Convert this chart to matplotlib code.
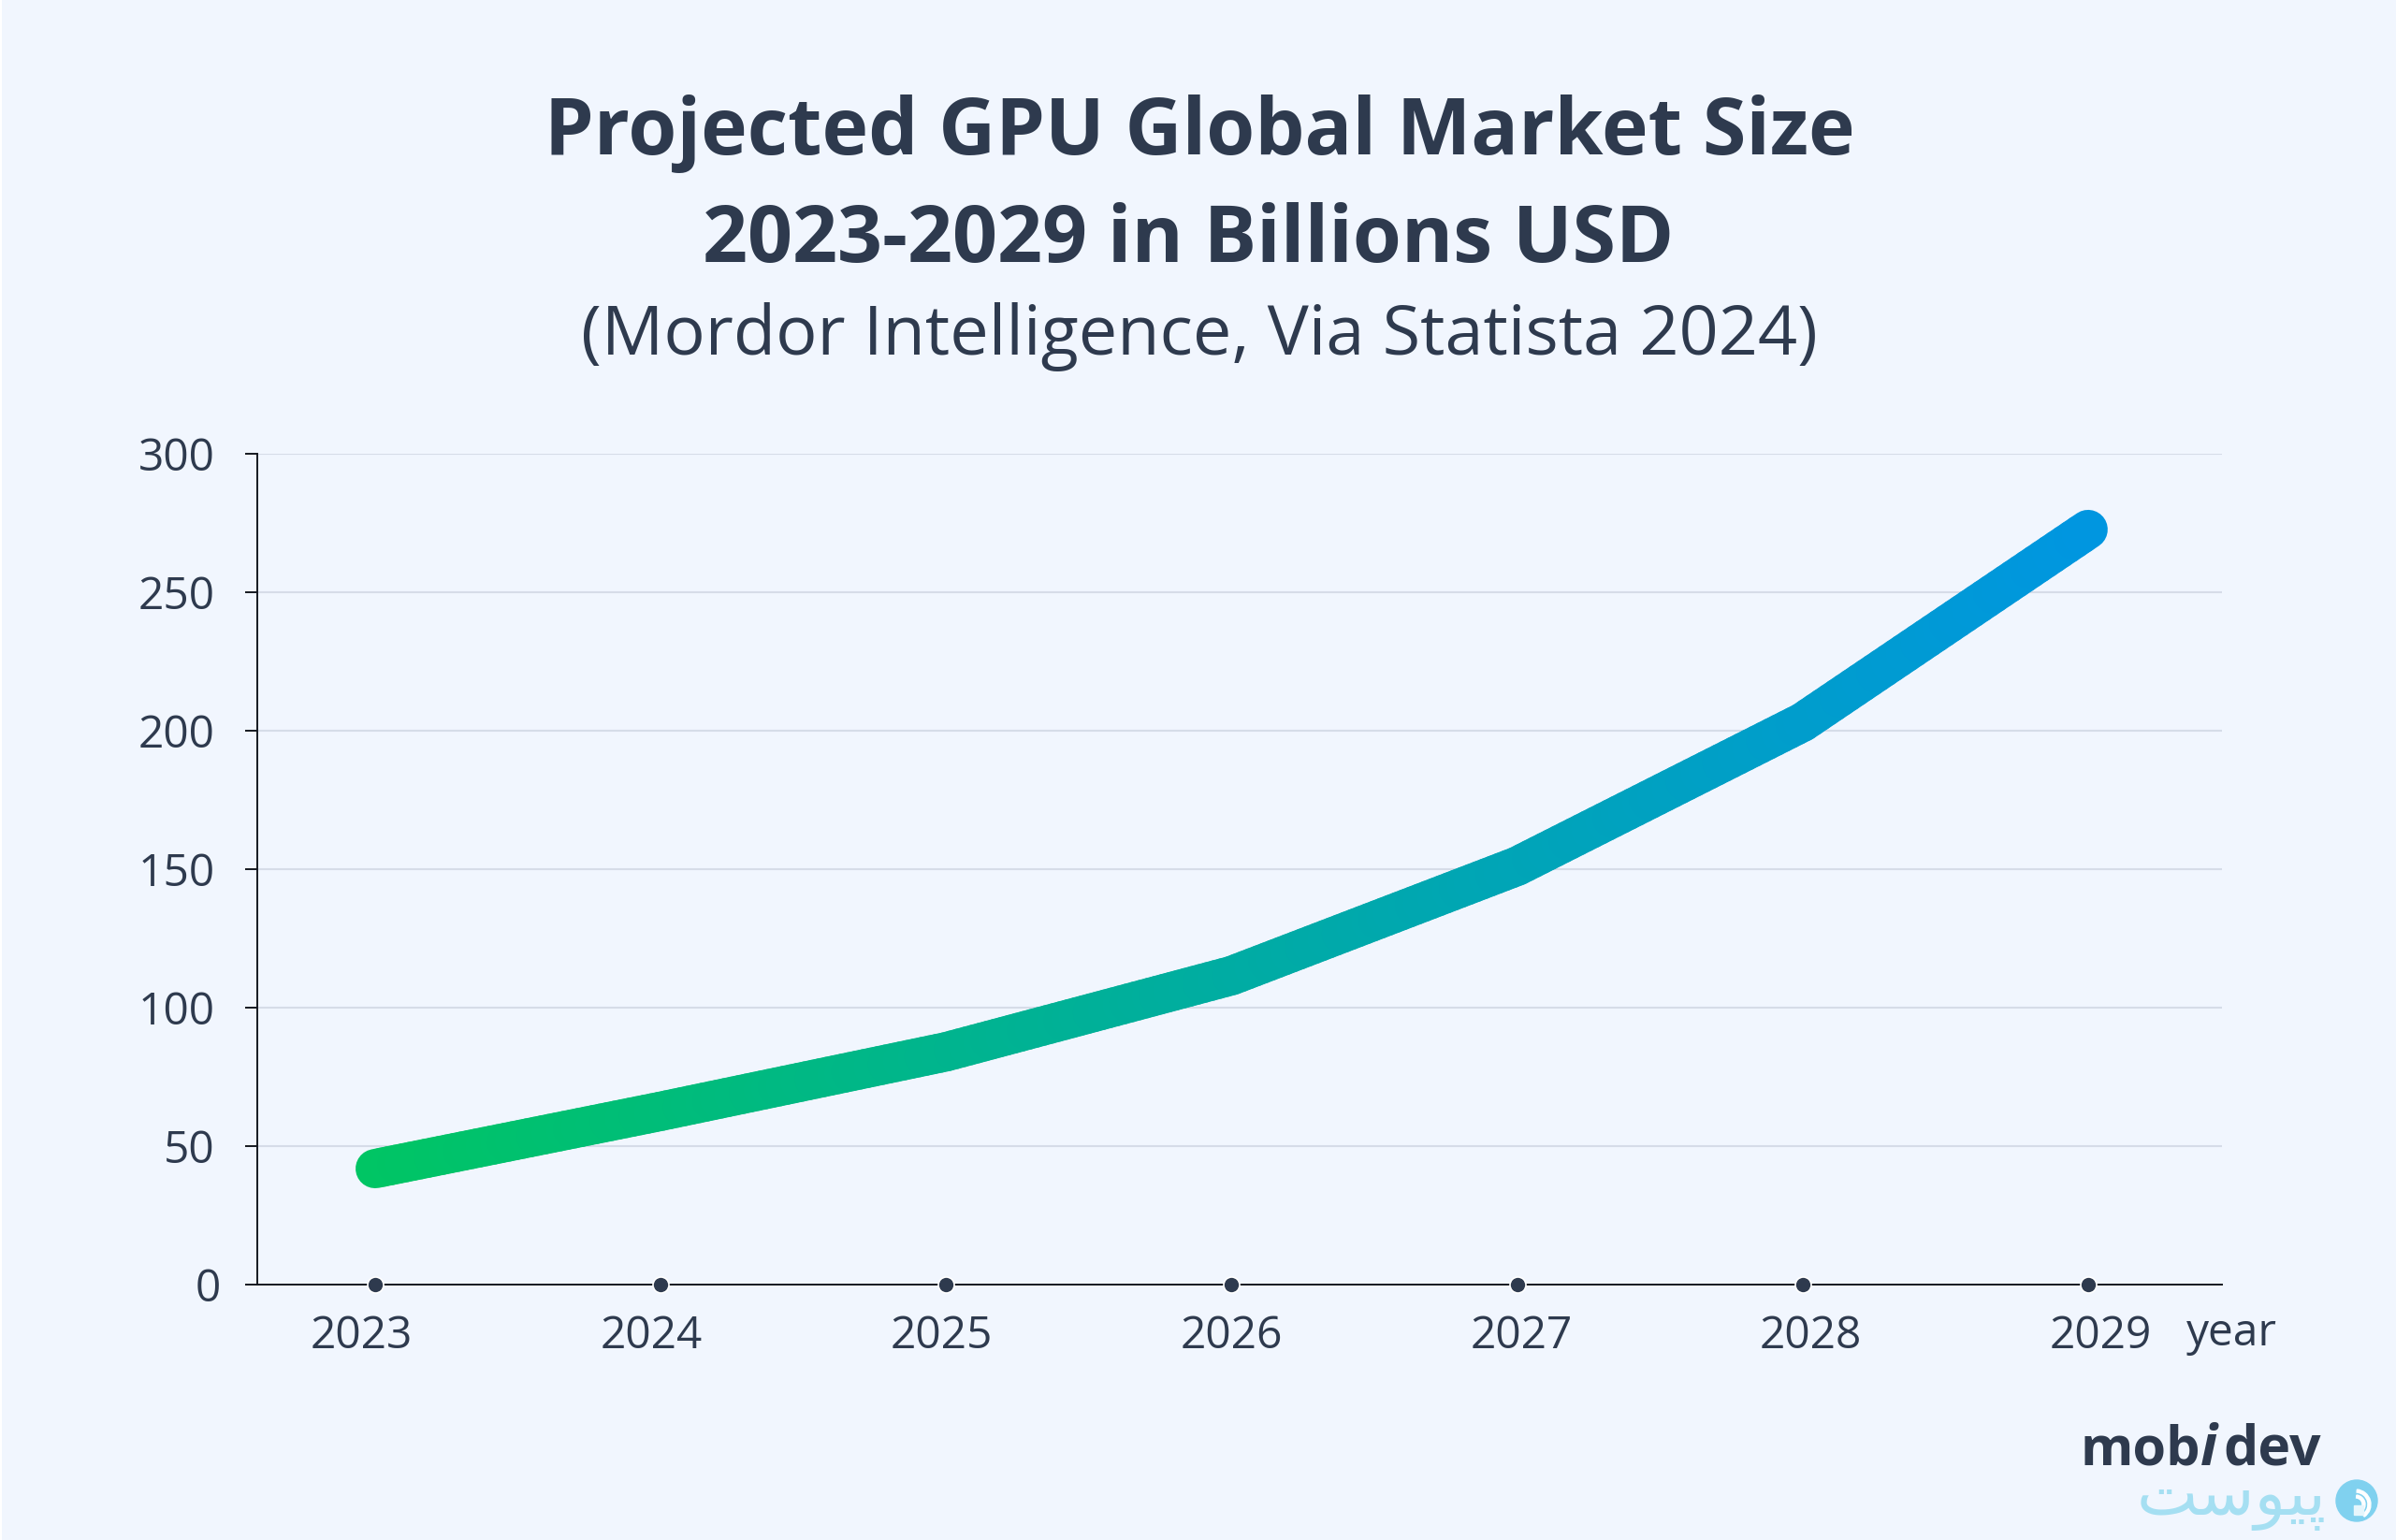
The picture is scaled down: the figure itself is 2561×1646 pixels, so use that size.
import numpy as np
from matplotlib import pyplot as plt
from matplotlib.collections import LineCollection
from matplotlib.colors import LinearSegmentedColormap
from matplotlib.patches import Circle, Rectangle, Wedge

YEARS = [2023, 2024, 2025, 2026, 2027, 2028, 2029]
MARKET_SIZE = [41.8, 62.5, 84.0, 111.5, 151.0, 203.0, 272.6]
Y_TICKS = [0, 50, 100, 150, 200, 250, 300]

TITLE_LINES = ["Projected GPU Global Market Size", "2023-2029 in Billions USD"]
SUBTITLE = "(Mordor Intelligence, Via Statista 2024)"
DARK = "#2e3a4e"
BACKGROUND = "#f1f6fe"
GRID = "#d6dce8"
WIDTH, HEIGHT = 2561, 1646
AXIS_SIZE = 34.5

plt.rcParams["font.family"] = ["Open Sans", "Noto Sans", "DejaVu Sans"]

fig = plt.figure(figsize=(WIDTH / 100, HEIGHT / 100), dpi=100, facecolor=BACKGROUND)
ax = fig.add_axes(
    [275 / WIDTH, 1 - 1372.8 / HEIGHT, (2375 - 275) / WIDTH, 888 / HEIGHT]
)
ax.set_facecolor(BACKGROUND)
ax.set_xlim(2022.587, 2029.469)
ax.set_ylim(0, 300)

ax.set_yticks(Y_TICKS)
ax.tick_params(axis="y", length=9.4, width=1.4, color="#14181f", labelsize=AXIS_SIZE,
               labelcolor=DARK, pad=23.5)
ax.yaxis.get_major_ticks()[0].set_pad(19)  # the zero sits closer to the axis
ax.grid(axis="y", color=GRID, linewidth=1.5)
ax.set_axisbelow(True)
for side in ("top", "right"):
    ax.spines[side].set_visible(False)
for side in ("left", "bottom"):
    ax.spines[side].set_color("#14181f")
    ax.spines[side].set_linewidth(1.4)

# labels sit on a slightly wider spacing than the dots in the original
label_pos = [2023 - 0.049 + i * 1.0157 for i in range(len(YEARS))]
ax.set_xticks(label_pos, [str(y) for y in YEARS])
ax.tick_params(axis="x", length=0, labelsize=AXIS_SIZE, labelcolor=DARK, pad=22.5)

# the gradient is only a colouring of the straight segments between values
pieces = []
shades = []
for i in range(len(YEARS) - 1):
    xs = np.linspace(YEARS[i], YEARS[i + 1], 40)
    ys = np.linspace(MARKET_SIZE[i], MARKET_SIZE[i + 1], 40)
    for j in range(len(xs) - 1):
        pieces.append([(xs[j], ys[j]), (xs[j + 1], ys[j + 1])])
        shades.append((xs[j] - YEARS[0]) / (YEARS[-1] - YEARS[0]))
cmap = LinearSegmentedColormap.from_list(
    "line", [(0, "#00c564"), (0.55, "#00aaa8"), (1, "#0096e0")]
)
line = LineCollection(pieces, colors=cmap(shades), linewidths=30.2,
                      capstyle="round", joinstyle="round", zorder=3)
ax.add_collection(line)

ax.scatter(YEARS, [0] * len(YEARS), s=150, color=DARK, edgecolor="white",
           linewidth=1.2, clip_on=False, zorder=4)

fig.text(1282 / WIDTH, 1 - 143 / HEIGHT, TITLE_LINES[0], fontsize=60.6,
         fontweight="bold", color=DARK, ha="center", va="center")
fig.text(1270 / WIDTH, 1 - 258 / HEIGHT, TITLE_LINES[1], fontsize=60.6,
         fontweight="bold", color=DARK, ha="center", va="center")
fig.text(1282 / WIDTH, 1 - 360 / HEIGHT, SUBTITLE, fontsize=53.2, color=DARK,
         ha="center", va="center")
fig.text(2385 / WIDTH, 1 - 1438 / HEIGHT, "year", fontsize=AXIS_SIZE, color=DARK,
         ha="center", va="baseline")

# footer logos
fig.text(2224 / WIDTH, 1 - 1566 / HEIGHT, "mob", fontsize=41.5, fontweight="bold",
         color=DARK, ha="left", va="baseline")
fig.text(2352 / WIDTH, 1 - 1566 / HEIGHT, "i", fontsize=44, fontweight="bold",
         style="italic", color=DARK, ha="left", va="baseline")
fig.text(2376 / WIDTH, 1 - 1566 / HEIGHT, "dev", fontsize=42.5, fontweight="bold",
         color=DARK, ha="left", va="baseline")
# Persian wordmark in visual order, matplotlib does not shape Arabic script
fig.text(2385 / WIDTH, 1 - 1602 / HEIGHT, "\ufe96\ufeb3\ufeee\ufef4\ufb58", fontsize=50,
         color="#a5dff2", ha="center", va="center", family="DejaVu Sans")
fig.add_artist(Circle((2519, HEIGHT - 1604), 22, color="#80d1ef", transform=None))
for radius in (10, 16):
    fig.add_artist(Wedge((2518, HEIGHT - 1608), radius, -55, 85, width=3, color="white",
                         transform=None))
fig.add_artist(Rectangle((2516, HEIGHT - 1619), 10, 10, color="#e6f6fc", transform=None))

# thin white strip down the left edge of the original image
fig.add_artist(Rectangle((0, 0), 2 / WIDTH, 1, color="white", linewidth=0,
                         transform=fig.transFigure))

fig.savefig("out.png", dpi=100, facecolor=BACKGROUND)
